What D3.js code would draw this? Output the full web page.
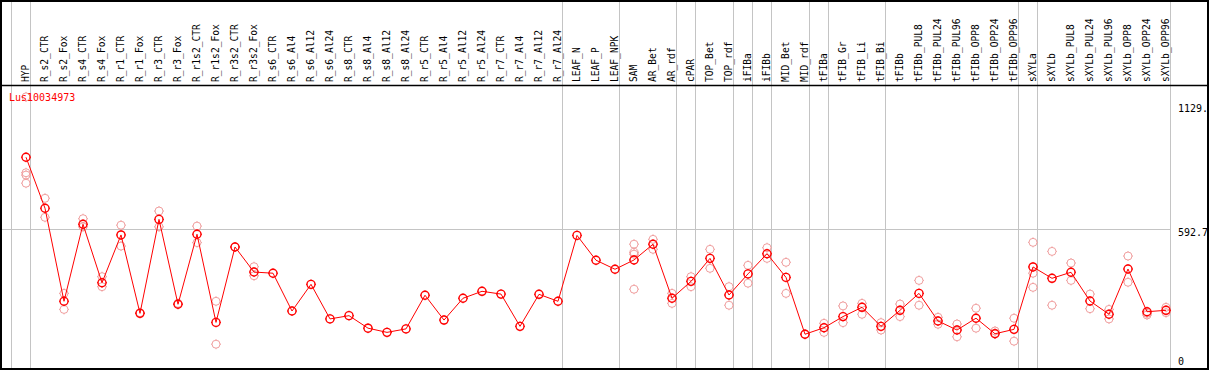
<!DOCTYPE html>
<html>
<head>
<meta charset="utf-8">
<script src="https://cdn.jsdelivr.net/npm/d3@7"></script>
<style>
body { margin: 0; background: #fff; }
svg text { font-family: "DejaVu Sans Mono", monospace; }
</style>
</head>
<body>
<div id="chart"></div>
<script>
var geneName = 'Lus10034973';

var categories = ['HYP','R_s2_CTR','R_s2_Fox','R_s4_CTR','R_s4_Fox','R_r1_CTR','R_r1_Fox','R_r3_CTR','R_r3_Fox',
  'R_r1s2_CTR','R_r1s2_Fox','R_r3s2_CTR','R_r3s2_Fox','R_s6_CTR','R_s6_Al4','R_s6_Al12','R_s6_Al24',
  'R_s8_CTR','R_s8_Al4','R_s8_Al12','R_s8_Al24','R_r5_CTR','R_r5_Al4','R_r5_Al12','R_r5_Al24',
  'R_r7_CTR','R_r7_Al4','R_r7_Al12','R_r7_Al24','LEAF_N','LEAF_P','LEAF_NPK','SAM','AR_Bet','AR_rdf',
  'cPAR','TOP_Bet','TOP_rdf','iFIBa','iFIBb','MID_Bet','MID_rdf','tFIBa','tFIB_Gr','tFIB_Li','tFIB_Bi',
  'tFIBb','tFIBb_PUL8','tFIBb_PUL24','tFIBb_PUL96','tFIBb_OPP8','tFIBb_OPP24','tFIBb_OPP96',
  'sXYLa','sXYLb','sXYLb_PUL8','sXYLb_PUL24','sXYLb_PUL96','sXYLb_OPP8','sXYLb_OPP24','sXYLb_OPP96'];

// mean expression per sample
var means = [900,680,279,611,359,565,227,632,266,568,188,513,405,400,237,352,203,217,163,145,160,305,198,292,322,
  310,171,309,279,563,456,417,457,525,292,365,464,306,397,484,382,137,165,213,253,171,240,313,194,155,206,139,158,
  427,378,404,280,223,418,234,240];

// individual replicates per sample
var replicates = [[1160,833,823,788],[723,641],[313,244],[635,600],[385,342],[607,517],[230],[668,600],[270],
  [603,532],[279,94],[513],[428,389],[],[],[],[],[],[],[],[],[],[],[],[],[],[],[],[],[],[],[],
  [525,490,482,331],[546,503],[313,270],[385,342],[503,421],[342,262],[434,357],[510,464],[447,313],[137],
  [184,145],[259,187],[270,223],[187,155],[267,213],[369,262],[210,180],[181,126],[249,163],[151,141],[206,107],
  [533,400,339],[494,262],[444,369],[310,247],[244,203],[474,361],[227,220],[253,230]];

// first sample of each group (vertical separators)
var groupStarts = ['HYP','R_s2_CTR','LEAF_N','SAM','cPAR','TOP_Bet','iFIBa','iFIBb','MID_Bet','tFIBa','tFIB_Gr','tFIBb','sXYLa','sXYLb'];

var yTicks = [0, 592.7, 1129.4];
var yTickLabels = ['0', '592.7', '1129.'];

var W = 1209, H = 370;
var left = 11, right = 1170, headerY = 85, bottom = 369;

var svg = d3.select('#chart').append('svg')
  .attr('width', W)
  .attr('height', H);

var x = d3.scaleBand().domain(categories).range([left, right]).paddingInner(0).paddingOuter(0);
var y = d3.scaleLinear().domain([0, yTicks[2]]).range([366, 104]);
var px = function(c){ return x(c) + 15; };

// separators
var seps = groupStarts.map(function(c){ return x(c); });
seps.push(right);
svg.selectAll('line.sep').data(seps).enter().append('line')
  .attr('x1', function(d){ return d + 0.5; })
  .attr('x2', function(d){ return d + 0.5; })
  .attr('y1', 0).attr('y2', bottom)
  .style('stroke', '#c4c4c4').style('stroke-width', 1);

// mid reference line
svg.append('line')
  .attr('x1', 1).attr('x2', right)
  .attr('y1', Math.round(y(yTicks[1])) + 0.5).attr('y2', Math.round(y(yTicks[1])) + 0.5)
  .style('stroke', '#c4c4c4').style('stroke-width', 1);

// frame + header line
svg.append('rect').attr('x', 1).attr('y', 1).attr('width', 1207).attr('height', 368)
  .style('fill', 'none').style('stroke', '#000').style('stroke-width', 2);
svg.append('line').attr('x1', 0).attr('x2', W).attr('y1', headerY + 0.5).attr('y2', headerY + 0.5)
  .style('stroke', '#000').style('stroke-width', 1.5);

// sample labels
svg.selectAll('text.cat').data(categories).enter().append('text')
  .attr('class', 'cat')
  .attr('transform', function(d){ return 'translate(' + (px(d) + 3) + ',82) rotate(-90)'; })
  .style('font-size', '9.6px')
  .text(function(d){ return d; });

// y labels
svg.selectAll('text.ylab').data(yTicks).enter().append('text')
  .attr('x', 1178)
  .attr('y', function(d, i){ return i == 0 ? y(d) - 1 : y(d) + 7.5; })
  .style('font-size', '10px')
  .text(function(d, i){ return yTickLabels[i]; });

var marker = function(g, cx, cy, color, sw){
  var r = 4;
  g.append('circle').attr('cx', cx).attr('cy', cy).attr('r', r)
    .style('fill', 'none').style('stroke', color).style('stroke-width', sw);
  [[0,-1],[0,1],[-1,0],[1,0]].forEach(function(v){
    g.append('line')
      .attr('x1', cx + v[0]*r).attr('y1', cy + v[1]*r)
      .attr('x2', cx + v[0]*(r+1)).attr('y2', cy + v[1]*(r+1))
      .style('stroke', color).style('stroke-width', 1);
  });
};

// replicates
var rg = svg.append('g');
categories.forEach(function(c, i){
  replicates[i].forEach(function(v){ marker(rg, px(c), y(v), '#f0a0a0', 1); });
});

// mean line
var line = d3.line()
  .x(function(d, i){ return px(categories[i]); })
  .y(function(d){ return y(d); });
svg.append('path').datum(means).attr('d', line)
  .style('fill', 'none').style('stroke', '#ff0000').style('stroke-width', 1);

var mg = svg.append('g');
means.forEach(function(v, i){ marker(mg, px(categories[i]), y(v), '#ff0000', 1.4); });

svg.append('text').attr('x', 9).attr('y', 101)
  .style('font-size', '10px').style('fill', '#ff0000')
  .text(geneName);
</script>
</body>
</html>
